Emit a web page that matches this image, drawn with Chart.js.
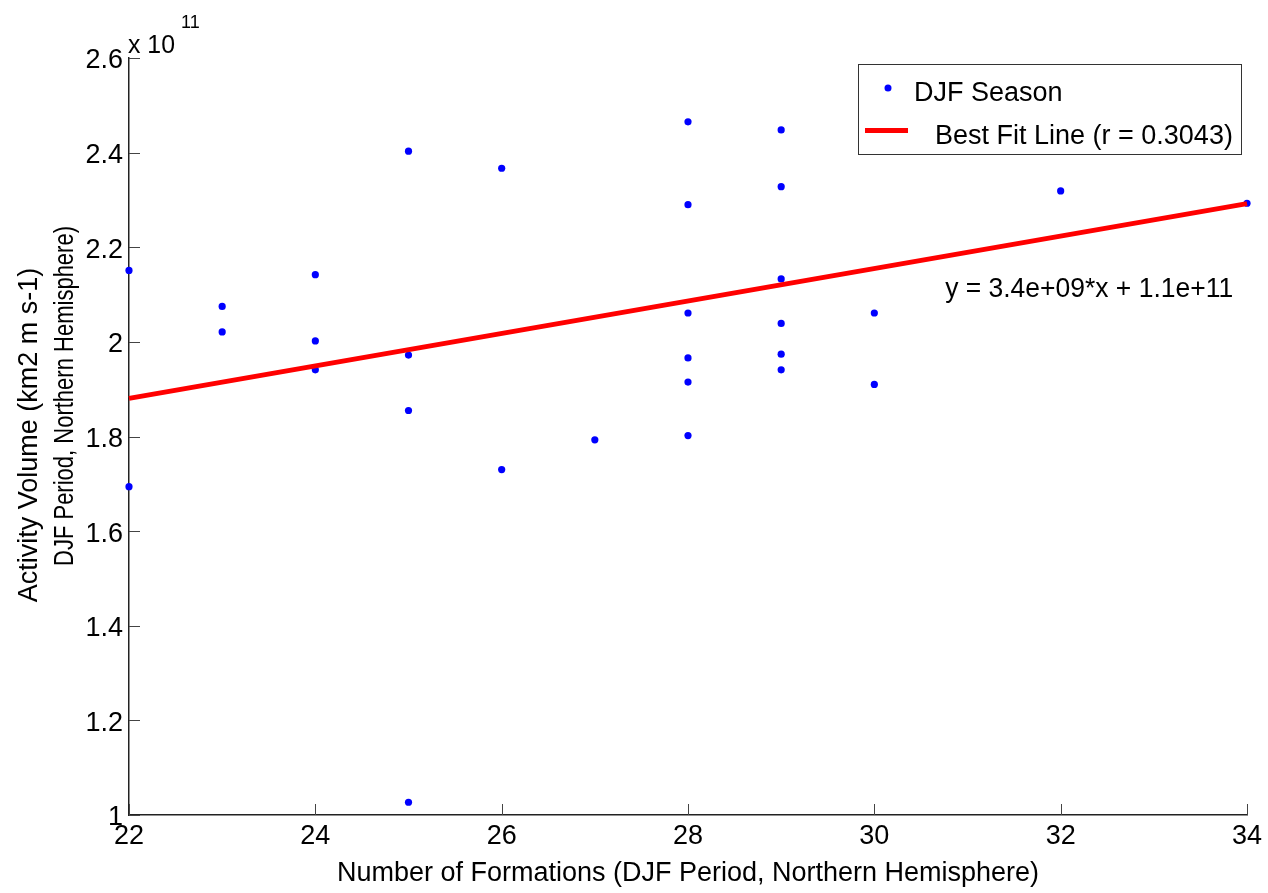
<!DOCTYPE html>
<html>
<head>
<meta charset="utf-8">
<title>DJF Formations vs Activity Volume</title>
<script src="https://cdn.jsdelivr.net/npm/chart.js@4.4.1/dist/chart.umd.min.js"></script>
<style>
  html, body { margin: 0; padding: 0; background: #ffffff; }
  #wrap { width: 1268px; height: 893px; }
  canvas { display: block; }
</style>
</head>
<body>
<div id="wrap"><canvas id="chart" width="1268" height="893"></canvas></div>
<script>
// Number of formations per DJF season (Northern Hemisphere)
const formations = [22, 22, 23, 23, 24, 24, 24, 25, 25, 25, 25, 26, 26, 27,
  28, 28, 28, 28, 28, 28, 29, 29, 29, 29, 29, 29, 30, 30, 32, 34];

// Activity volume for the same seasons (km2 m s-1)
const activity = [2.151e11, 1.694e11, 2.075e11, 2.021e11, 2.142e11, 2.002e11, 1.941e11,
  2.403e11, 1.972e11, 1.855e11, 1.027e11, 2.367e11, 1.730e11, 1.793e11,
  2.465e11, 2.290e11, 2.061e11, 1.966e11, 1.915e11, 1.802e11,
  2.448e11, 2.328e11, 2.133e11, 2.039e11, 1.974e11, 1.941e11,
  2.061e11, 1.910e11, 2.319e11, 2.293e11];

// Least-squares line and correlation coefficient
const fitSlope = 3.43e9;
const fitIntercept = 1.126e11;
const fitR = 0.3043;
const fitRange = [22, 34];

// Axis ticks
const xTicks = [22, 24, 26, 28, 30, 32, 34];
const yTicks = [1.0e11, 1.2e11, 1.4e11, 1.6e11, 1.8e11, 2.0e11, 2.2e11, 2.4e11, 2.6e11];
const yTickLabels = ['1', '1.2', '1.4', '1.6', '1.8', '2', '2.2', '2.4', '2.6'];

// Text
const seriesName = 'DJF Season';
const fitName = 'Best Fit Line (r = ' + fitR.toFixed(4) + ')';
const xTitle = 'Number of Formations (DJF Period, Northern Hemisphere)';
const yTitleLines = ['Activity Volume (km2 m s-1)', 'DJF Period, Northern Hemisphere)'];

const FONT = '"Liberation Sans", Arial, Helvetica, sans-serif';
const FS = 27;

function expFormat(v) {
  // exponent written with two digits: 3.4e+09
  const s = v.toExponential(1);
  const m = s.match(/^(-?[\d.]+)e([+-])(\d+)$/);
  const e = m[3].length < 2 ? '0' + m[3] : m[3];
  return m[1] + 'e' + m[2] + e;
}
const equationText = 'y = ' + expFormat(fitSlope) + '*x + ' + expFormat(fitIntercept);

const points = formations.map((x, i) => ({ x: x, y: activity[i] }));
const fitLine = fitRange.map(x => ({ x: x, y: fitSlope * x + fitIntercept }));

// Inward tick marks, axis titles, exponent label, equation and legend
const decorations = {
  id: 'decorations',
  afterDraw(chart) {
    const ctx = chart.ctx;
    const a = chart.chartArea;
    const xs = chart.scales.x, ys = chart.scales.y;
    ctx.save();

    // tick marks pointing into the plot
    ctx.strokeStyle = '#444';
    ctx.lineWidth = 1;
    ctx.beginPath();
    xTicks.forEach(t => {
      const px = Math.round(xs.getPixelForValue(t)) + 0.5;
      ctx.moveTo(px, a.bottom);
      ctx.lineTo(px, a.bottom - 11);
    });
    yTicks.forEach(t => {
      const py = Math.round(ys.getPixelForValue(t)) + 0.5;
      ctx.moveTo(a.left, py);
      ctx.lineTo(a.left + 11, py);
    });
    ctx.stroke();

    ctx.fillStyle = '#000';

    // exponent label
    ctx.font = (FS - 1) + 'px ' + FONT;
    ctx.textAlign = 'left';
    ctx.textBaseline = 'alphabetic';
    ctx.fillText('x 10', a.left - 1, a.top - 5, 47);
    ctx.font = '18px ' + FONT;
    ctx.fillText('11', a.left + 52, a.top - 30);

    // x title
    ctx.font = FS + 'px ' + FONT;
    ctx.textAlign = 'center';
    ctx.textBaseline = 'alphabetic';
    ctx.fillText(xTitle, (a.left + a.right) / 2, a.bottom + 66);

    // y title (two rotated lines)
    ctx.save();
    ctx.translate(37, 435);
    ctx.rotate(-Math.PI / 2);
    ctx.textAlign = 'center';
    ctx.fillText(yTitleLines[0], 0, 0);
    ctx.restore();
    ctx.save();
    ctx.translate(73, 396);
    ctx.rotate(-Math.PI / 2);
    ctx.textAlign = 'center';
    ctx.fillText(yTitleLines[1], 0, 0, 340);
    ctx.restore();

    // fit equation
    ctx.textAlign = 'left';
    ctx.textBaseline = 'middle';
    ctx.fillText(equationText, xs.getPixelForValue(30.76), ys.getPixelForValue(2.11e11), 288);

    // legend box
    const lx = a.right - 389, ly = a.top + 6, lw = 383, lh = 90;
    ctx.fillStyle = '#fff';
    ctx.fillRect(lx, ly, lw, lh);
    ctx.strokeStyle = '#333';
    ctx.lineWidth = 1;
    ctx.strokeRect(lx + 0.5, ly + 0.5, lw, lh);

    ctx.fillStyle = '#0000ff';
    ctx.beginPath();
    ctx.arc(lx + 30, ly + 24, 3.5, 0, Math.PI * 2);
    ctx.fill();
    ctx.fillStyle = '#000';
    ctx.textBaseline = 'middle';
    ctx.fillText(seriesName, lx + 56, ly + 30);

    ctx.strokeStyle = '#ff0000';
    ctx.lineWidth = 5;
    ctx.beginPath();
    ctx.moveTo(lx + 7, ly + 66.5);
    ctx.lineTo(lx + 50, ly + 66.5);
    ctx.stroke();
    ctx.fillText(fitName, lx + 77, ly + 73, 300);

    ctx.restore();
  }
};

new Chart(document.getElementById('chart'), {
  data: {
    datasets: [
      {
        type: 'line',
        label: fitName,
        data: fitLine,
        borderColor: '#ff0000',
        borderWidth: 5,
        pointRadius: 0,
        fill: false,
        order: 0,
        clip: false
      },
      {
        type: 'scatter',
        label: seriesName,
        data: points,
        backgroundColor: '#0000ff',
        borderColor: '#0000ff',
        borderWidth: 0,
        pointRadius: 3.6,
        order: 1,
        clip: false
      }
    ]
  },
  options: {
    responsive: false,
    animation: false,
    devicePixelRatio: 1,
    layout: { padding: { left: 0, top: 58, right: 21, bottom: 0 } },
    plugins: {
      legend: { display: false },
      tooltip: { enabled: false }
    },
    scales: {
      x: {
        type: 'linear',
        min: 22,
        max: 34,
        afterBuildTicks: s => { s.ticks = xTicks.map(v => ({ value: v })); },
        afterFit: s => { s.height = 78; },
        border: { display: true, color: '#222', width: 1.5 },
        grid: { drawOnChartArea: false, drawTicks: false },
        ticks: {
          padding: 5,
          color: '#000',
          font: { family: FONT, size: FS },
          maxRotation: 0,
          autoSkip: false,
          callback: v => String(v)
        }
      },
      y: {
        type: 'linear',
        min: 1.0e11,
        max: 2.6e11,
        afterBuildTicks: s => { s.ticks = yTicks.map(v => ({ value: v })); },
        afterFit: s => { s.width = 129; },
        border: { display: true, color: '#222', width: 1.5 },
        grid: { drawOnChartArea: false, drawTicks: false },
        ticks: {
          padding: 6,
          labelOffset: 3,
          color: '#000',
          font: { family: FONT, size: FS },
          autoSkip: false,
          callback: v => yTickLabels[yTicks.indexOf(v)] ?? ''
        }
      }
    }
  },
  plugins: [decorations]
});
</script>
</body>
</html>
